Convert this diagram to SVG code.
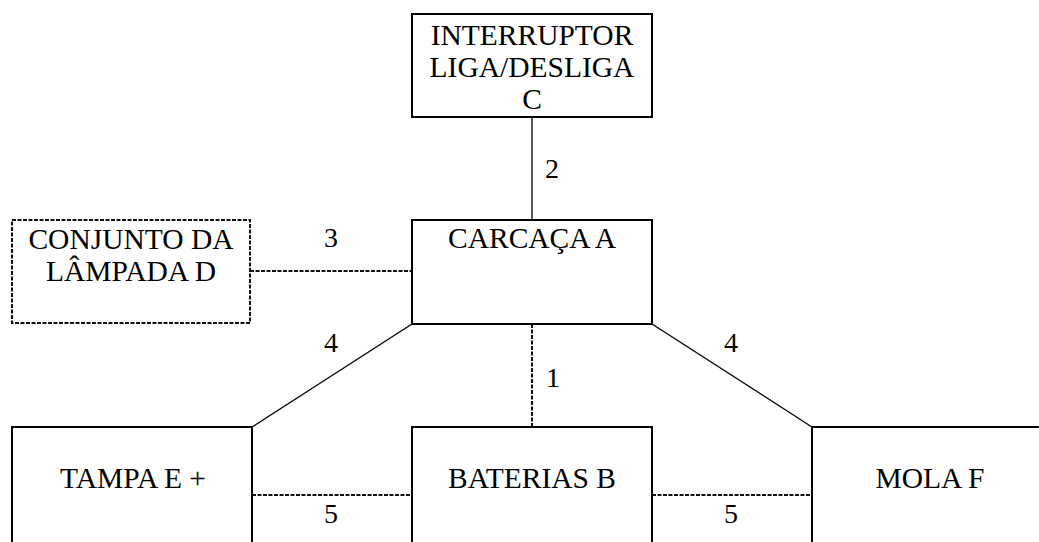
<svg xmlns="http://www.w3.org/2000/svg" width="1039" height="542" viewBox="0 0 1039 542">
<style>
  .box { fill: #fff; stroke: #000; stroke-width: 2; }
  .dbox { fill: #fff; stroke: #111; stroke-width: 2; stroke-dasharray: 4 1.5; }
  .t { font-family: "Liberation Serif", "Times New Roman", serif; font-size: 29.5px; fill: #000; text-anchor: middle; }
  .lbl { font-family: "Liberation Serif", "Times New Roman", serif; font-size: 28px; fill: #000; }
  .solid { stroke: #000; stroke-width: 1.3; fill: none; }
  .dash { stroke: #111; stroke-width: 2; stroke-dasharray: 4 1.5; fill: none; }
</style>
<rect width="1039" height="542" fill="#fff"/>
<g id="connectors">
  <line class="solid" x1="532" y1="117" x2="532" y2="220"/>
  <line class="dash" x1="250" y1="271" x2="412" y2="271"/>
  <line class="dash" x1="532" y1="324" x2="532" y2="427"/>
  <line class="solid" x1="412" y1="324" x2="252" y2="427"/>
  <line class="solid" x1="652" y1="324" x2="812" y2="427"/>
  <line class="dash" x1="252" y1="495" x2="412" y2="495"/>
  <line class="dash" x1="652" y1="495" x2="812" y2="495"/>
  <text class="lbl" x="545" y="178">2</text>
  <text class="lbl" x="324" y="247">3</text>
  <text class="lbl" x="546" y="387">1</text>
  <text class="lbl" x="324" y="352">4</text>
  <text class="lbl" x="724" y="352">4</text>
  <text class="lbl" x="324" y="523">5</text>
  <text class="lbl" x="724" y="523">5</text>
</g>
<g id="node-C">
  <rect class="box" x="412" y="14" width="240" height="103"/>
  <text class="t" x="532" y="45">INTERRUPTOR</text>
  <text class="t" x="532" y="77">LIGA/DESLIGA</text>
  <text class="t" x="532" y="109">C</text>
</g>
<g id="node-A">
  <rect class="box" x="412" y="220" width="240" height="104"/>
  <text class="t" x="532" y="248">CARCAÇA A</text>
</g>
<g id="node-D">
  <rect class="dbox" x="12" y="220" width="238" height="103"/>
  <text class="t" x="131" y="249">CONJUNTO DA</text>
  <text class="t" x="131" y="281">LÂMPADA D</text>
</g>
<g id="node-E">
  <rect class="box" x="12" y="427" width="240" height="130"/>
  <text class="t" x="133" y="488">TAMPA E +</text>
</g>
<g id="node-B">
  <rect class="box" x="412" y="427" width="240" height="130"/>
  <text class="t" x="532" y="488">BATERIAS B</text>
</g>
<g id="node-F">
  <rect class="box" x="812" y="427" width="240" height="130"/>
  <text class="t" x="930" y="488">MOLA F</text>
</g>
</svg>
